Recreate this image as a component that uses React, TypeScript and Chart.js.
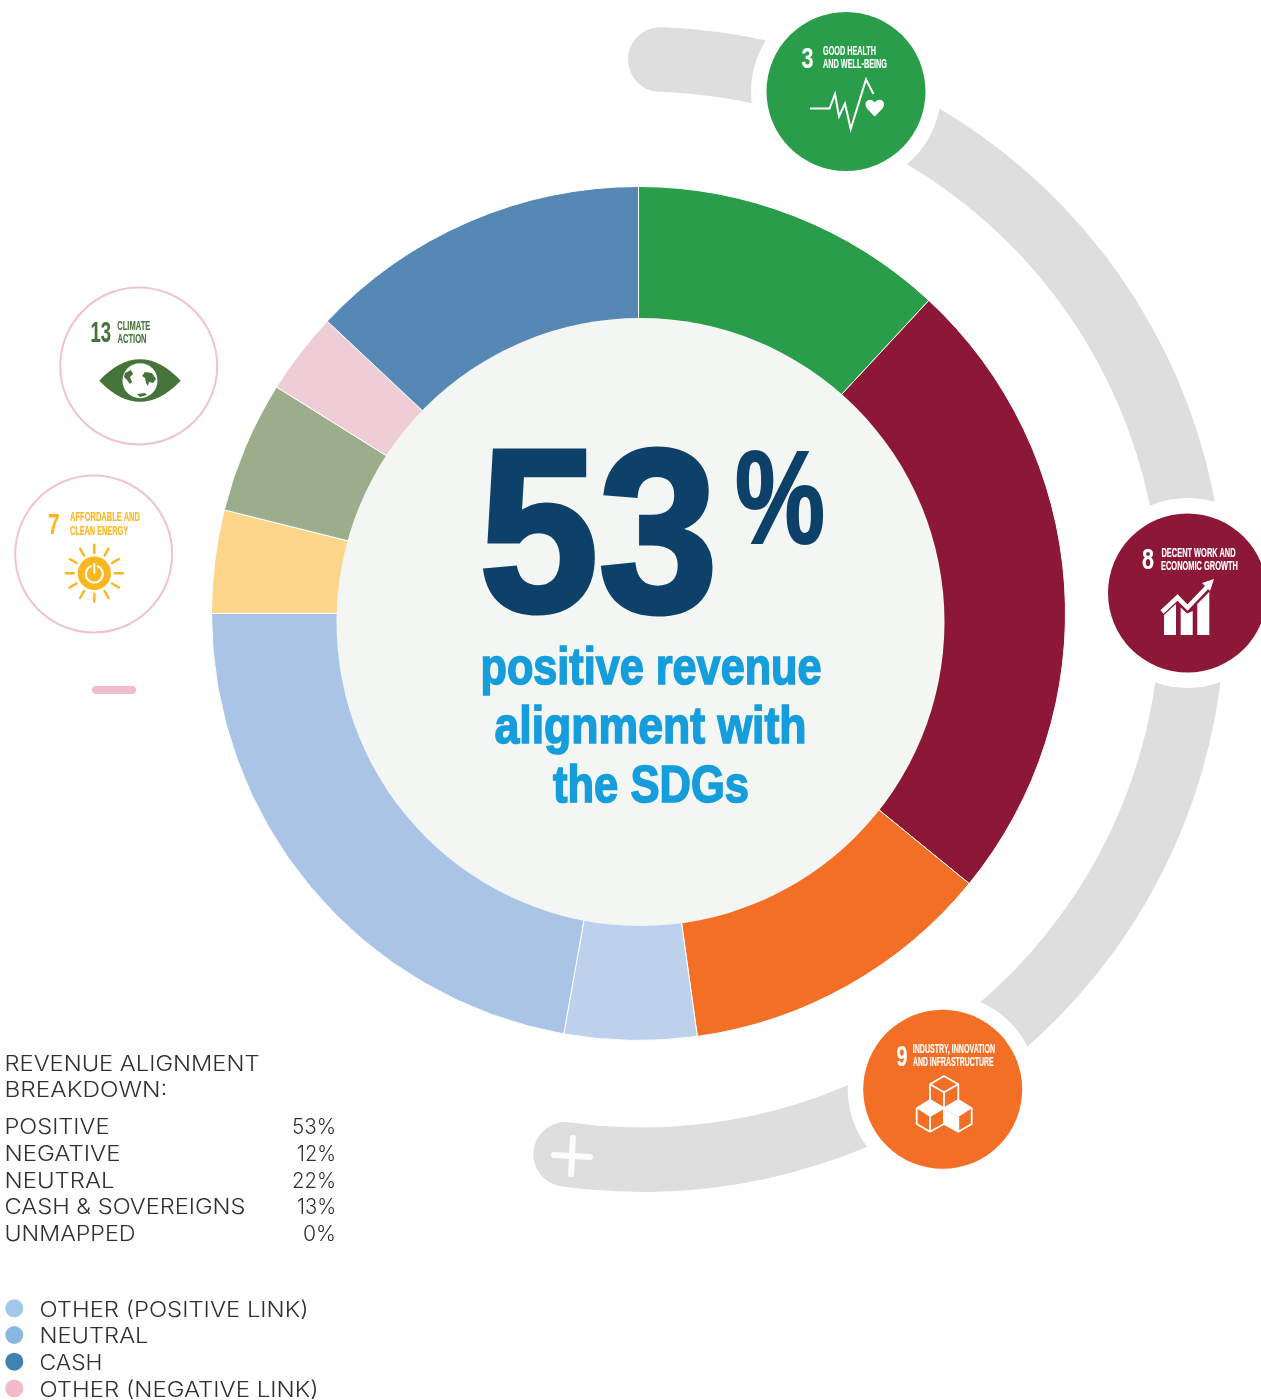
import React, { useEffect, useRef } from "react";
import { Chart, registerables } from "chart.js";

Chart.register(...registerables);

// ---- data -----------------------------------------------------------------
const ringLabels = ["SDG 3", "SDG 8", "SDG 9", "Other (positive link)", "Neutral", "SDG 7", "SDG 13", "Other (negative link)", "Cash"];
const ringValues = [11.9, 24.0, 11.9, 5.0, 22.2, 3.9, 5.0, 3.1, 13.0];
const ringColors = ["#2A9D4A", "#8C1736", "#F36F26", "#BDD1EC", "#AAC4E6", "#FDD58B", "#9BAD8B", "#EFCDD6", "#5688B5"];

const trackLabels = ["Scale", "Rest"];
const trackValues = [192.9, 167.1];

const headingLines = ["REVENUE ALIGNMENT", "BREAKDOWN:"];
const breakdownLabels = ["POSITIVE", "NEGATIVE", "NEUTRAL", "CASH & SOVEREIGNS", "UNMAPPED"];
const breakdownValues = ["53%", "12%", "22%", "13%", "0%"];

const legendLabels = ["OTHER (POSITIVE LINK)", "NEUTRAL", "CASH", "OTHER (NEGATIVE LINK)"];
const legendColors = ["#A3C8EA", "#88B8E2", "#3F82AE", "#F3BAC8"];

// ---- layout constants -------------------------------------------------------
const headingWidths = [255, 163];
const breakdownLabelWidths = [105, 116, 110, 241, 131];
const breakdownValueWidths = [44, 39, 44, 39, 33];
const legendWidths = [269, 109, 63, 279];

const NARROW = "'Liberation Sans Narrow', 'Liberation Sans', sans-serif";
const BODY = "Inter, 'Open Sans', sans-serif";
const GREEN = "#2A9D4A";
const MAROON = "#8C1736";
const ORANGE = "#F36F26";
const CLIMATE = "#467339";
const ENERGY = "#FDB71E";

function Lab(p: { x: number; y: number; w: number; size: number; fill: string; sw?: number; children: string }) {
  return (
    <text
      x={p.x}
      y={p.y}
      textLength={p.w}
      lengthAdjust="spacingAndGlyphs"
      fontFamily={NARROW}
      fontWeight={700}
      fontSize={p.size}
      fill={p.fill}
      stroke={p.fill}
      strokeWidth={p.sw ?? 0.15}
      style={{ whiteSpace: "pre" }}
    >
      {p.children}
    </text>
  );
}

function Body(p: { x: number; y: number; w: number; anchor?: "start" | "end"; children: string }) {
  return (
    <text
      x={p.x}
      y={p.y}
      textAnchor={p.anchor ?? "start"}
      textLength={p.w}
      lengthAdjust="spacingAndGlyphs"
      fontFamily={BODY}
      fontWeight={300}
      fontSize={21.5}
      fill="#2E3033"
    >
      {p.children}
    </text>
  );
}

const sunRays = Array.from({ length: 12 }, (_, i) => (i * Math.PI) / 6);

function Overlay() {
  return (
    <svg width={1261} height={1400} viewBox="0 0 1261 1400" style={{ position: "absolute", left: 0, top: 0 }}>
      {/* centre disc */}
      <circle cx={640.5} cy={622} r={304} fill="#F4F6F3" />
      <Lab x={479} y={611} w={239} size={232} fill="#0D4169" sw={5}>53</Lab>
      <Lab x={735} y={543} w={90} size={132} fill="#0D4169" sw={2}>%</Lab>
      <Lab x={480.5} y={684} w={341} size={52} fill="#169DDB" sw={1.6}>positive revenue</Lab>
      <Lab x={494.5} y={743} w={312} size={52} fill="#169DDB" sw={1.6}>alignment with</Lab>
      <Lab x={553} y={802} w={196} size={52} fill="#169DDB" sw={1.6}>the SDGs</Lab>

      {/* plus on the scale track */}
      <g transform="rotate(3 572 1156)" stroke="#FFFFFF" strokeWidth={6} strokeLinecap="round" opacity={0.9}>
        <line x1={554} y1={1156} x2={590} y2={1156} />
        <line x1={572} y1={1138} x2={572} y2={1174} />
      </g>
      <rect x={92} y={686} width={44} height={8} rx={4} fill="#F0BECA" />

      {/* SDG 3 */}
      <circle cx={846} cy={91.5} r={95} fill="#fff" />
      <circle cx={846} cy={91.5} r={79.5} fill={GREEN} />
      <Lab x={801.5} y={67.5} w={12} size={30} fill="#fff">3</Lab>
      <Lab x={823} y={55} w={53} size={12} fill="#fff">GOOD HEALTH</Lab>
      <Lab x={823} y={68} w={64} size={12} fill="#fff">AND WELL-BEING</Lab>
      <polyline points="810,108.5 829.5,108.5 835,94 839,116.5 845,103.5 850.7,129 866,79.5 873.5,94" fill="none" stroke="#fff" strokeWidth={2} />
      <path d="M874.7 116.5 C868 110 865.5 107.5 865.5 104 C865.5 99.5 872 98 874.7 102.5 C877.5 98 884 99.5 884 104 C884 107.5 881.5 110 874.7 116.5 Z" fill="#fff" />

      {/* SDG 8 */}
      <circle cx={1187.5} cy={593} r={95} fill="#fff" />
      <circle cx={1187.5} cy={593} r={79.5} fill={MAROON} />
      <Lab x={1142} y={569} w={12} size={30} fill="#fff">8</Lab>
      <Lab x={1161.5} y={557} w={74} size={12} fill="#fff">DECENT WORK AND</Lab>
      <Lab x={1161} y={570} w={77} size={12} fill="#fff">ECONOMIC GROWTH</Lab>
      <polygon points="1164,635 1176,635 1176,604 1164,615" fill="#fff" />
      <polygon points="1180.7,635 1192.7,635 1192.7,611 1187,613.5 1180.7,607.5" fill="#fff" />
      <polygon points="1197.3,635 1209.3,635 1209.3,591.7 1197.3,604" fill="#fff" />
      <polyline points="1162,612 1177.5,597.5 1187.5,607.5 1209,585" fill="none" stroke="#fff" strokeWidth={4.5} />
      <polygon points="1214,579 1202,583 1210,591" fill="#fff" />

      {/* SDG 9 */}
      <circle cx={942.7} cy={1089.3} r={95} fill="#fff" />
      <circle cx={942.7} cy={1089.3} r={79.5} fill={ORANGE} />
      <Lab x={896.5} y={1065.5} w={11} size={30} fill="#fff">9</Lab>
      <Lab x={912.7} y={1053} w={82.5} size={12} fill="#fff">INDUSTRY, INNOVATION</Lab>
      <Lab x={913} y={1066} w={80.5} size={12} fill="#fff">AND INFRASTRUCTURE</Lab>
      <g fill="none" stroke="#fff" strokeWidth={1.8} strokeLinejoin="round">
        <polygon points="944,1076 958.3,1084.3 958.3,1100 944,1108.3 930,1100 930,1084.3" />
        <polyline points="930,1084.3 944,1092.3 958.3,1084.3" />
        <line x1={944} y1={1092.3} x2={944} y2={1108.3} />
        <polygon points="930,1100 944,1109 944,1124 930,1131.7 916.7,1124 916.7,1108.3" />
        <polygon points="958.3,1100 971.7,1108.3 971.7,1124 958.3,1131.7 944,1124 944,1109" />
        <line x1={930} y1={1117} x2={930} y2={1131.7} />
        <line x1={958.3} y1={1117} x2={958.3} y2={1131.7} />
      </g>
      <polygon points="930,1100 944,1109 930,1117 916.7,1108.3" fill="#fff" />
      <polygon points="958.3,1100 971.7,1108.3 958.3,1117 944,1109" fill="#fff" />
      <polygon points="944,1109 958.3,1117 958.3,1131.7 944,1124" fill="#fff" />

      {/* SDG 13 */}
      <circle cx={138.7} cy={366} r={78.5} fill="#fff" stroke="#F0C3CE" strokeWidth={2} />
      <Lab x={90.5} y={342} w={20.5} size={30} fill={CLIMATE}>13</Lab>
      <Lab x={117.3} y={329.5} w={33} size={12} fill={CLIMATE}>CLIMATE</Lab>
      <Lab x={117.5} y={342.5} w={29} size={12} fill={CLIMATE}>ACTION</Lab>
      <path d="M99.3 380.7 Q140 338 180.7 380.7 Q140 423 99.3 380.7 Z" fill={CLIMATE} />
      <circle cx={140} cy={380.7} r={17.5} fill="#fff" />
      <path d="M125 373 l6 -3 2 4 -3 3 2 5 -2 2 -3 -4 -3 -3 Z M145 372 l7 1 4 6 -3 4 -4 -1 -1 4 -2 -3 -1 -5 -3 -2 Z M137 394 l8 -1 2 2 -7 2 Z" fill={CLIMATE} />

      {/* SDG 7 */}
      <circle cx={93.7} cy={554} r={78.5} fill="#fff" stroke="#F0C3CE" strokeWidth={2} />
      <Lab x={48} y={534} w={11.5} size={30} fill={ENERGY}>7</Lab>
      <Lab x={70} y={521} w={70} size={12} fill={ENERGY}>AFFORDABLE AND</Lab>
      <Lab x={70} y={534.5} w={58} size={12} fill={ENERGY}>CLEAN ENERGY</Lab>
      <circle cx={94.3} cy={573.3} r={16.7} fill={ENERGY} />
      {sunRays.map((a, i) => (
        <line
          key={i}
          x1={94.3 + 20.5 * Math.cos(a)}
          y1={573.3 + 20.5 * Math.sin(a)}
          x2={94.3 + 28.5 * Math.cos(a)}
          y2={573.3 + 28.5 * Math.sin(a)}
          stroke={ENERGY}
          strokeWidth={2.4}
          strokeLinecap="round"
        />
      ))}
      <circle cx={94.3} cy={574} r={8.5} fill="none" stroke="#fff" strokeWidth={2.2} />
      <line x1={94.3} y1={563} x2={94.3} y2={573} stroke={ENERGY} strokeWidth={5} />
      <line x1={94.3} y1={564} x2={94.3} y2={573} stroke="#fff" strokeWidth={2} strokeLinecap="round" />

      {/* breakdown table */}
      {headingLines.map((line, i) => (
        <Body key={line} x={4.5} y={1070.7 + i * 26} w={headingWidths[i]}>{line}</Body>
      ))}
      {breakdownLabels.map((label, i) => (
        <Body key={label} x={4.5} y={1134.3 + i * 26.7} w={breakdownLabelWidths[i]}>{label}</Body>
      ))}
      {breakdownValues.map((value, i) => (
        <Body key={i} x={336} y={1134.3 + i * 26.7} w={breakdownValueWidths[i]} anchor="end">{value}</Body>
      ))}

      {/* legend */}
      {legendLabels.map((label, i) => (
        <g key={label}>
          <circle cx={14.3} cy={1308.3 + i * 26.7} r={9} fill={legendColors[i]} />
          <Body x={39.5} y={1316.7 + i * 26.7} w={legendWidths[i]}>{label}</Body>
        </g>
      ))}
    </svg>
  );
}

export default function App() {
  const trackRef = useRef<HTMLCanvasElement>(null);
  const ringRef = useRef<HTMLCanvasElement>(null);

  useEffect(() => {
    const base = {
      responsive: false,
      animation: false as const,
      events: [] as never[],
      layout: { padding: 0 },
      plugins: { legend: { display: false }, tooltip: { enabled: false }, title: { display: false } },
    };
    const track = new Chart(trackRef.current!, {
      type: "doughnut",
      data: {
        labels: trackLabels,
        datasets: [
          {
            data: trackValues,
            backgroundColor: ["#DEDEDE", "rgba(0,0,0,0)"],
            borderWidth: 0,
            borderRadius: (c: any) => (c.dataIndex === 0 ? 32 : 0),
          },
        ],
      },
      options: { ...base, cutout: 518, rotation: -1.51 } as any,
    });
    const ring = new Chart(ringRef.current!, {
      type: "doughnut",
      data: {
        labels: ringLabels,
        datasets: [
          {
            data: ringValues,
            backgroundColor: ringColors,
            borderColor: "#ffffff",
            borderWidth: 1,
          },
        ],
      },
      options: { ...base, cutout: 285 } as any,
    });
    return () => {
      track.destroy();
      ring.destroy();
    };
  }, []);

  return (
    <div style={{ position: "absolute", left: 0, top: 0, width: 1261, height: 1400, overflow: "hidden", background: "#fff" }}>
      <canvas ref={trackRef} width={1165} height={1165} style={{ position: "absolute", left: 60, top: 27 }} />
      <canvas ref={ringRef} width={855} height={855} style={{ position: "absolute", left: 211, top: 186 }} />
      <Overlay />
    </div>
  );
}
